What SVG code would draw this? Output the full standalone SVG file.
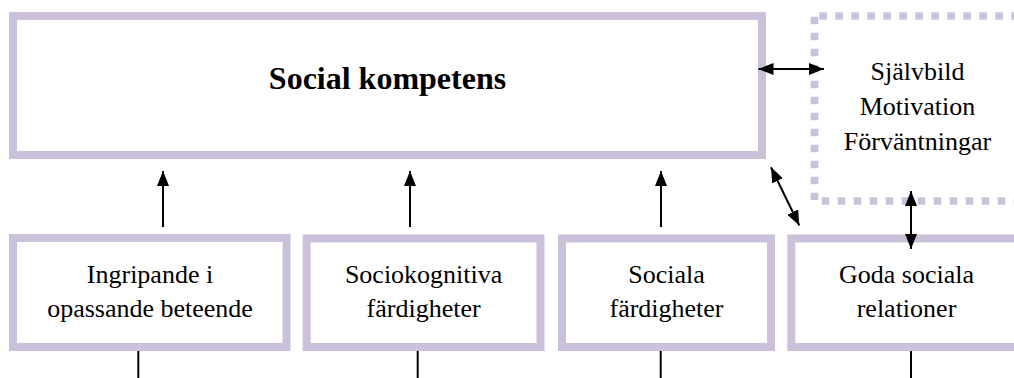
<svg xmlns="http://www.w3.org/2000/svg" width="1014" height="378" viewBox="0 0 1014 378">
<style>
.box{fill:#fff;stroke:#CCC1DA;stroke-width:8}
.dot{fill:none;stroke:#CCC1DA;stroke-width:7.6;stroke-dasharray:7.6 8.4}
.t{font-family:"Liberation Serif","Times New Roman",serif;font-size:26px;fill:#000;text-anchor:middle}
.tb{font-family:"Liberation Serif","Times New Roman",serif;font-size:32px;font-weight:bold;fill:#000;text-anchor:middle}
.c{stroke:#000;stroke-width:2;fill:none}
.a{marker-end:url(#ah)}
.d{marker-start:url(#ah);marker-end:url(#ah)}
</style>
<defs>
<marker id="ah" markerUnits="userSpaceOnUse" viewBox="0 0 15 12" markerWidth="15" markerHeight="12" refX="15" refY="6" orient="auto-start-reverse">
<path d="M0,0 L15,6 L0,12 Z" fill="#000"/>
</marker>
</defs>
<rect width="1014" height="378" fill="#fff"/>
<g id="social-kompetens">
<rect class="box" x="13" y="16" width="749" height="139"/>
<text class="tb" x="387.5" y="88.5">Social kompetens</text>
</g>
<g id="sjalvbild">
<line class="dot" x1="814.5" y1="16.7" x2="814.5" y2="200"/>
<line class="dot" x1="819.3" y1="16" x2="1020" y2="16"/>
<line class="dot" x1="821.7" y1="201" x2="1020" y2="201"/>
<text class="t" x="917.5" y="80">Självbild</text>
<text class="t" x="917.5" y="115">Motivation</text>
<text class="t" x="917.5" y="150">Förväntningar</text>
</g>
<g id="ingripande">
<rect class="box" x="13" y="238" width="273.5" height="109"/>
<text class="t" x="150" y="283">Ingripande i</text>
<text class="t" x="150" y="317">opassande beteende</text>
</g>
<g id="sociokognitiva">
<rect class="box" x="306.7" y="238.5" width="233.8" height="108.5"/>
<text class="t" x="423.6" y="283">Sociokognitiva</text>
<text class="t" x="423.6" y="317">färdigheter</text>
</g>
<g id="sociala">
<rect class="box" x="562" y="238.5" width="209" height="108.5"/>
<text class="t" x="666.5" y="283">Sociala</text>
<text class="t" x="666.5" y="317">färdigheter</text>
</g>
<g id="goda">
<rect class="box" x="791.3" y="238.5" width="230" height="108.5"/>
<text class="t" x="906.5" y="283">Goda sociala</text>
<text class="t" x="906.5" y="317">relationer</text>
</g>
<g id="connectors">
<line class="c a" x1="163" y1="227" x2="163" y2="171"/>
<line class="c a" x1="410" y1="227" x2="410" y2="171"/>
<line class="c a" x1="661" y1="227" x2="661" y2="171"/>
<line class="c d" x1="758.5" y1="69" x2="824" y2="69"/>
<line class="c d" x1="771" y1="167.3" x2="799.3" y2="225.5"/>
<line class="c d" x1="911" y1="191" x2="911" y2="249"/>
<line class="c" x1="138.3" y1="351" x2="138.3" y2="378"/>
<line class="c" x1="417.7" y1="351" x2="417.7" y2="378"/>
<line class="c" x1="660.7" y1="351" x2="660.7" y2="378"/>
<line class="c" x1="911" y1="351" x2="911" y2="378"/>
</g>
</svg>
